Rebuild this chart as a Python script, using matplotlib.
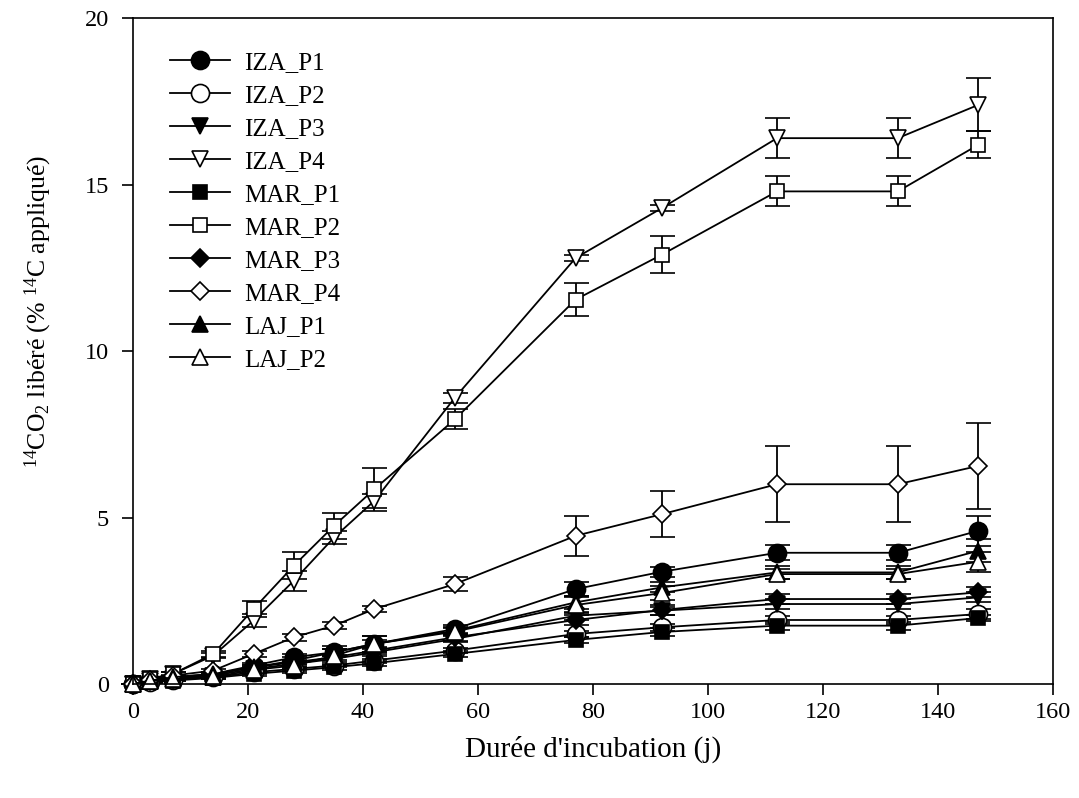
import matplotlib.pyplot as plt
import numpy as np

plt.rcParams['font.family'] = ['Liberation Serif', 'DejaVu Serif']
plt.rcParams['mathtext.fontset'] = 'custom'
plt.rcParams['mathtext.rm'] = 'Liberation Serif'
plt.rcParams['mathtext.it'] = 'Liberation Serif:italic'
plt.rcParams['mathtext.default'] = 'rm'

# Temps d'incubation (jours)
jours = [0, 3, 7, 14, 21, 28, 35, 42, 56, 77, 92, 112, 133, 147]

series = ['IZA_P1', 'IZA_P2', 'IZA_P3', 'IZA_P4', 'MAR_P1',
          'MAR_P2', 'MAR_P3', 'MAR_P4', 'LAJ_P1', 'LAJ_P2']

iza_p1 = [0, 0.10, 0.20, 0.30, 0.55, 0.80, 0.95, 1.20, 1.65, 2.85, 3.37, 3.94, 3.94, 4.60]
iza_p2 = [0, 0.05, 0.12, 0.20, 0.35, 0.45, 0.55, 0.70, 1.00, 1.50, 1.70, 1.92, 1.92, 2.10]
iza_p3 = [0, 0.08, 0.15, 0.25, 0.45, 0.60, 0.75, 0.95, 1.35, 2.05, 2.20, 2.40, 2.40, 2.60]
iza_p4 = [0, 0.15, 0.30, 0.85, 1.90, 3.10, 4.40, 5.50, 8.60, 12.80, 14.30, 16.40, 16.40, 17.40]
mar_p1 = [0, 0.05, 0.10, 0.18, 0.30, 0.40, 0.50, 0.62, 0.90, 1.32, 1.56, 1.75, 1.75, 1.98]
mar_p2 = [0, 0.15, 0.30, 0.90, 2.25, 3.55, 4.75, 5.85, 7.95, 11.55, 12.90, 14.80, 14.80, 16.20]
mar_p3 = [0, 0.08, 0.15, 0.28, 0.50, 0.65, 0.80, 1.00, 1.40, 1.92, 2.22, 2.55, 2.55, 2.75]
mar_p4 = [0, 0.12, 0.25, 0.40, 0.90, 1.40, 1.75, 2.25, 3.00, 4.45, 5.10, 6.00, 6.00, 6.55]
laj_p1 = [0, 0.10, 0.20, 0.30, 0.50, 0.70, 0.95, 1.20, 1.60, 2.45, 2.90, 3.35, 3.35, 4.00]
laj_p2 = [0, 0.08, 0.15, 0.20, 0.42, 0.55, 0.85, 1.20, 1.57, 2.37, 2.73, 3.30, 3.30, 3.67]

# écarts-types
iza_p1_err = [0, 0.02, 0.03, 0.05, 0.08, 0.10, 0.10, 0.12, 0.12, 0.20, 0.15, 0.22, 0.22, 0.45]
iza_p2_err = [0, 0.01, 0.02, 0.03, 0.05, 0.05, 0.05, 0.06, 0.08, 0.10, 0.10, 0.12, 0.12, 0.15]
iza_p3_err = [0, 0.02, 0.02, 0.04, 0.06, 0.08, 0.08, 0.10, 0.10, 0.12, 0.12, 0.15, 0.15, 0.15]
iza_p4_err = [0, 0.03, 0.05, 0.08, 0.20, 0.30, 0.20, 0.20, 0.15, 0.10, 0.10, 0.60, 0.60, 0.80]
mar_p1_err = [0, 0.01, 0.02, 0.03, 0.05, 0.06, 0.08, 0.08, 0.10, 0.10, 0.12, 0.12, 0.12, 0.10]
mar_p2_err = [0, 0.03, 0.05, 0.08, 0.25, 0.40, 0.40, 0.65, 0.30, 0.50, 0.55, 0.45, 0.45, 0.40]
mar_p3_err = [0, 0.02, 0.02, 0.04, 0.06, 0.08, 0.08, 0.10, 0.10, 0.15, 0.15, 0.15, 0.15, 0.15]
mar_p4_err = [0, 0.02, 0.03, 0.05, 0.08, 0.10, 0.10, 0.10, 0.20, 0.60, 0.70, 1.15, 1.15, 1.30]
laj_p1_err = [0, 0.02, 0.03, 0.05, 0.08, 0.10, 0.10, 0.25, 0.10, 0.20, 0.15, 0.20, 0.20, 0.35]
laj_p2_err = [0, 0.02, 0.03, 0.05, 0.08, 0.10, 0.30, 0.25, 0.10, 0.25, 0.20, 0.15, 0.15, 0.30]

values = [iza_p1, iza_p2, iza_p3, iza_p4, mar_p1, mar_p2, mar_p3, mar_p4, laj_p1, laj_p2]
errors = [iza_p1_err, iza_p2_err, iza_p3_err, iza_p4_err, mar_p1_err,
          mar_p2_err, mar_p3_err, mar_p4_err, laj_p1_err, laj_p2_err]

markers = ['o', 'o', 'v', 'v', 's', 's', 'D', 'D', '^', '^']
fills = ['k', 'w', 'k', 'w', 'k', 'w', 'k', 'w', 'k', 'w']
sizes = [13, 13, 12, 12, 10, 10, 9, 9, 12, 12]

fig = plt.figure(figsize=(10.79, 7.98), dpi=100)
ax = fig.add_axes([0.123, 0.143, 0.853, 0.834])

lines = []
for name, y, err, m, fc, ms in zip(series, values, errors, markers, fills, sizes):
    cont = ax.errorbar(jours, y, yerr=err, color='k', lw=1.3, marker=m, ms=ms,
                       mfc=fc, mec='k', mew=1.2, capsize=9, capthick=1.3,
                       elinewidth=1.3, label=name, clip_on=False)
    lines.append(cont[0])

ax.set_xlim(0, 160)
ax.set_ylim(0, 20)
ax.set_xticks(np.arange(0, 161, 20))
ax.set_yticks(np.arange(0, 21, 5))
ax.tick_params(direction='out', length=8, width=1.2, labelsize=17.5,
               top=False, right=False)
ax.tick_params(axis='x', pad=5)
ax.tick_params(axis='y', pad=9)
for s in ax.spines.values():
    s.set_linewidth(1.2)

ax.set_xlabel("Durée d'incubation (j)", fontsize=21, labelpad=9)
ax.set_ylabel(r"$^{14}$CO$_2$ libéré (% $^{14}$C appliqué)", fontsize=18.5)
ax.yaxis.set_label_coords(-0.085, 0.56)

ax.legend(lines, series, loc='upper left', bbox_to_anchor=(0.04, 0.95),
          frameon=False, fontsize=18, handlelength=2.4, handletextpad=0.6,
          labelspacing=0.42, borderaxespad=0, borderpad=0)

fig.savefig('out.png', dpi=100)
